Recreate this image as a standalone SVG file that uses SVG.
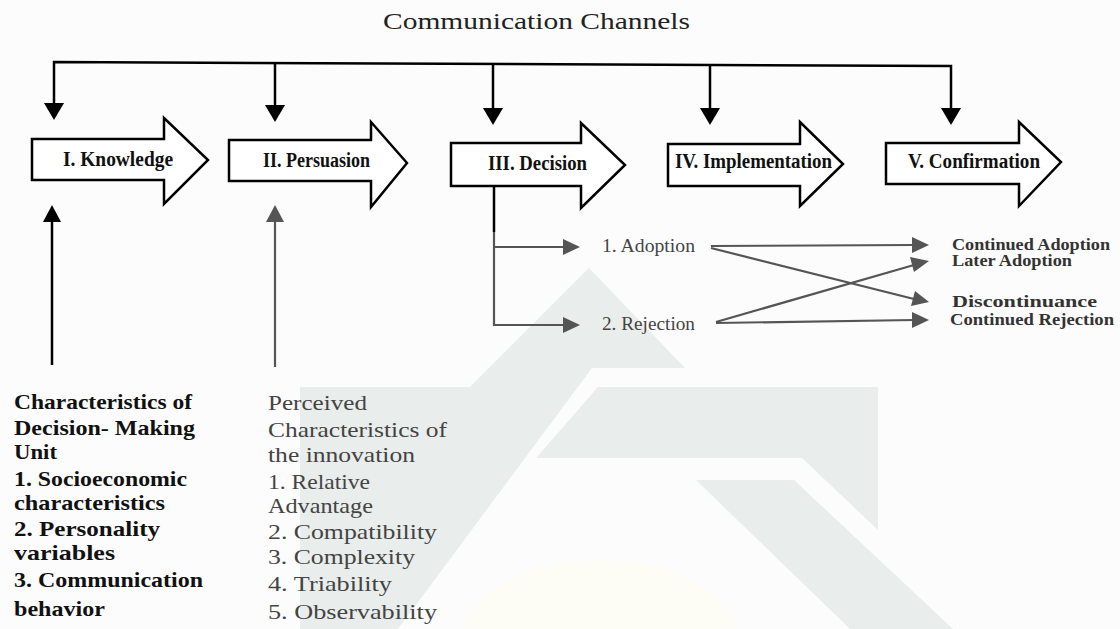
<svg xmlns="http://www.w3.org/2000/svg" width="1120" height="629" viewBox="0 0 1120 629">
<style>
.bg{fill:#fcfcfc}
.wm{fill:#e9edeb}
.box{fill:#fff;stroke:#000;stroke-width:2.5;stroke-linejoin:miter}
.lbl{font-family:"Liberation Serif","Times New Roman",serif;font-size:20px;font-weight:bold;fill:#111}
.title{font-family:"Liberation Serif","Times New Roman",serif;font-size:24px;fill:#222}
.sm{font-family:"Liberation Serif","Times New Roman",serif;font-size:19px;fill:#444}
.out{font-family:"Liberation Serif","Times New Roman",serif;font-size:16px;font-weight:bold;fill:#333}
.c1{font-family:"Liberation Serif","Times New Roman",serif;font-size:21px;font-weight:bold;fill:#111}
.c2{font-family:"Liberation Serif","Times New Roman",serif;font-size:21px;fill:#444}
.blk{fill:none;stroke:#000;stroke-width:2.5}
.gry{fill:none;stroke:#555;stroke-width:2.2}
.hb{fill:#000}
.hg{fill:#555}
</style>
<rect class="bg" x="0" y="0" width="1120" height="629"/>
<g id="watermark">
<ellipse cx="600" cy="645" rx="140" ry="85" fill="#fdfcf5"/>
<polygon class="wm" points="589,268 685,368 592,368 398,629 300,629 300,387 470,387"/>
<polygon class="wm" points="598,387 878,387 878,530 802,458 536,458"/>
<polygon class="wm" points="696,480 794,480 953,629 850,629"/>
</g>
<g id="title"><text class="title" x="383" y="29" textLength="307" lengthAdjust="spacingAndGlyphs">Communication Channels</text></g>
<g id="connectors">
<path class="blk" d="M54,103 L54,62 L951,66 L951,108"/>
<line class="blk" x1="275" y1="63" x2="275" y2="105"/>
<line class="blk" x1="493" y1="64" x2="493" y2="108"/>
<line class="blk" x1="710" y1="65" x2="710" y2="108"/>
<polygon class="hb" points="44,103 64,103 54,120"/>
<polygon class="hb" points="265,105 285,105 275,122"/>
<polygon class="hb" points="483,108 503,108 493,125"/>
<polygon class="hb" points="700,108 720,108 710,125"/>
<polygon class="hb" points="941,108 961,108 951,125"/>
<line class="blk" x1="52" y1="365" x2="52" y2="220"/>
<polygon class="hb" points="43,222 61,222 52,205"/>
<line class="gry" x1="275" y1="367" x2="275" y2="220"/>
<polygon class="hg" points="266,222 284,222 275,205"/>
<line class="blk" x1="494" y1="186" x2="494" y2="232"/>
<path class="gry" d="M494,232 L494,325 L565,325 M494,247 L565,247"/>
<polygon class="hg" points="563,239 580,247 563,255"/>
<polygon class="hg" points="563,317 580,325 563,333"/>
<line class="gry" x1="711" y1="246" x2="914" y2="245"/>
<polygon class="hg" points="912,237 929,245 912,253"/>
<line class="gry" x1="711" y1="248" x2="914" y2="299"/>
<polygon class="hg" points="915,291 929,302 911,306"/>
<line class="gry" x1="716" y1="322" x2="914" y2="265"/>
<polygon class="hg" points="910,257 929,261 914,272"/>
<line class="gry" x1="716" y1="323" x2="914" y2="320"/>
<polygon class="hg" points="912,312 929,320 912,328"/>
</g>
<g id="knowledge">
<polygon class="box" points="32,139 164,139 164,118 208,160 164,204 164,180 32,180"/>
<text class="lbl" x="63" y="166" textLength="110" lengthAdjust="spacingAndGlyphs">I. Knowledge</text>
</g>
<g id="persuasion">
<polygon class="box" points="229,140 371,140 371,122 407,163 371,207 371,181 229,181"/>
<text class="lbl" x="263" y="167" textLength="107" lengthAdjust="spacingAndGlyphs">II. Persuasion</text>
</g>
<g id="decision">
<polygon class="box" points="451,143 581,143 581,123 625,165 581,208 581,186 451,186"/>
<text class="lbl" x="488" y="170" textLength="99" lengthAdjust="spacingAndGlyphs">III. Decision</text>
</g>
<g id="implementation">
<polygon class="box" points="668,144 800,144 800,122 843,164 800,206 800,186 668,186"/>
<text class="lbl" x="675" y="168" textLength="157" lengthAdjust="spacingAndGlyphs">IV. Implementation</text>
</g>
<g id="confirmation">
<polygon class="box" points="886,143 1019,143 1019,122 1061,162 1019,206 1019,184 886,184"/>
<text class="lbl" x="908" y="168" textLength="132" lengthAdjust="spacingAndGlyphs">V. Confirmation</text>
</g>
<g id="adoption"><text class="sm" x="602" y="252" textLength="93" lengthAdjust="spacingAndGlyphs">1. Adoption</text></g>
<g id="rejection"><text class="sm" x="602" y="330" textLength="93" lengthAdjust="spacingAndGlyphs">2. Rejection</text></g>
<g id="outcomes">
<text class="out" x="952" y="250" textLength="158" lengthAdjust="spacingAndGlyphs">Continued Adoption</text>
<text class="out" x="952" y="266" textLength="120" lengthAdjust="spacingAndGlyphs">Later Adoption</text>
<text class="out" x="952" y="307" textLength="145" lengthAdjust="spacingAndGlyphs">Discontinuance</text>
<text class="out" x="950" y="325" textLength="164" lengthAdjust="spacingAndGlyphs">Continued Rejection</text>
</g>
<g id="decision-unit">
<text class="c1" x="14" y="409" textLength="178" lengthAdjust="spacingAndGlyphs">Characteristics of</text>
<text class="c1" x="14" y="435" textLength="181" lengthAdjust="spacingAndGlyphs">Decision- Making</text>
<text class="c1" x="14" y="459" textLength="43" lengthAdjust="spacingAndGlyphs">Unit</text>
<text class="c1" x="14" y="486" textLength="173" lengthAdjust="spacingAndGlyphs">1. Socioeconomic</text>
<text class="c1" x="14" y="510" textLength="151" lengthAdjust="spacingAndGlyphs">characteristics</text>
<text class="c1" x="14" y="536" textLength="146" lengthAdjust="spacingAndGlyphs">2. Personality</text>
<text class="c1" x="14" y="560" textLength="101" lengthAdjust="spacingAndGlyphs">variables</text>
<text class="c1" x="14" y="587" textLength="189" lengthAdjust="spacingAndGlyphs">3. Communication</text>
<text class="c1" x="14" y="616" textLength="91" lengthAdjust="spacingAndGlyphs">behavior</text>
</g>
<g id="innovation">
<text class="c2" x="268" y="410" textLength="99" lengthAdjust="spacingAndGlyphs">Perceived</text>
<text class="c2" x="268" y="437" textLength="179" lengthAdjust="spacingAndGlyphs">Characteristics of</text>
<text class="c2" x="268" y="462" textLength="147" lengthAdjust="spacingAndGlyphs">the innovation</text>
<text class="c2" x="268" y="489" textLength="102" lengthAdjust="spacingAndGlyphs">1. Relative</text>
<text class="c2" x="268" y="513" textLength="105" lengthAdjust="spacingAndGlyphs">Advantage</text>
<text class="c2" x="268" y="539" textLength="169" lengthAdjust="spacingAndGlyphs">2. Compatibility</text>
<text class="c2" x="268" y="564" textLength="147" lengthAdjust="spacingAndGlyphs">3. Complexity</text>
<text class="c2" x="268" y="591" textLength="124" lengthAdjust="spacingAndGlyphs">4. Triability</text>
<text class="c2" x="268" y="619" textLength="169" lengthAdjust="spacingAndGlyphs">5. Observability</text>
</g>
</svg>
